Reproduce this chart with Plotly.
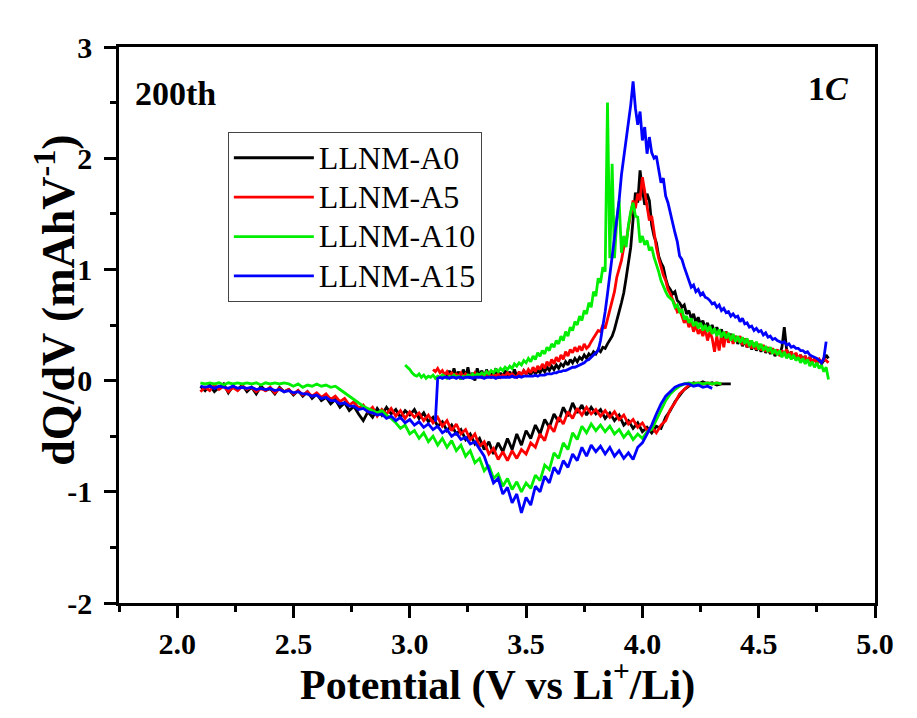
import numpy as np
import plotly.graph_objects as go

# ---------------- data ----------------
series_names = ["LLNM-A0", "LLNM-A5", "LLNM-A10", "LLNM-A15"]
series_colors = ["#000000", "#ff0000", "#00ee00", "#0000ff"]

# discharge branches: sampled every 0.02 V starting at 2.10 V
dis_start = [2.10, 2.10, 2.10, 2.10]
dis_step = 0.02
dis_A0 = [-0.05, -0.09, -0.04, -0.10, -0.06, -0.03, -0.11, -0.05, -0.08, -0.04,
          -0.10, -0.06, -0.12, -0.05, -0.09, -0.07, -0.12, -0.06, -0.10, -0.08,
          -0.13, -0.09, -0.14, -0.10, -0.16, -0.12, -0.18, -0.15, -0.21, -0.17,
          -0.24, -0.20, -0.27, -0.23, -0.30, -0.36, -0.28, -0.33, -0.25, -0.31,
          -0.24, -0.30, -0.26, -0.33, -0.27, -0.31, -0.26, -0.34, -0.29, -0.37,
          -0.33, -0.41, -0.37, -0.45, -0.40, -0.48, -0.44, -0.53, -0.48, -0.57,
          -0.52, -0.62, -0.55, -0.66, -0.56, -0.64, -0.52, -0.62, -0.48, -0.58,
          -0.45, -0.52, -0.40, -0.48, -0.35, -0.42, -0.30, -0.37, -0.24, -0.32,
          -0.20, -0.29, -0.22, -0.31, -0.24, -0.30, -0.26, -0.34, -0.29, -0.36,
          -0.31, -0.40, -0.36, -0.43, -0.38, -0.46, -0.42, -0.47, -0.41, -0.43,
          -0.33, -0.27, -0.19, -0.13, -0.08, -0.05, -0.02, -0.03, -0.01, -0.03,
          -0.02, -0.04, -0.03, -0.03, -0.03]
dis_A5 = [-0.10, -0.06, -0.09, -0.04, -0.08, -0.05, -0.10, -0.06, -0.09, -0.05,
          -0.08, -0.06, -0.10, -0.07, -0.09, -0.06, -0.11, -0.07, -0.10, -0.08,
          -0.12, -0.09, -0.13, -0.10, -0.14, -0.11, -0.15, -0.12, -0.17, -0.14,
          -0.19, -0.16, -0.22, -0.19, -0.25, -0.22, -0.28, -0.24, -0.32, -0.26,
          -0.30, -0.25, -0.32, -0.27, -0.34, -0.28, -0.33, -0.29, -0.36, -0.31,
          -0.38, -0.33, -0.41, -0.36, -0.45, -0.39, -0.48, -0.44, -0.53, -0.48,
          -0.59, -0.55, -0.66, -0.61, -0.71, -0.64, -0.72, -0.63, -0.70, -0.62,
          -0.66, -0.56, -0.60, -0.48, -0.54, -0.40, -0.46, -0.33, -0.39, -0.28,
          -0.34, -0.25, -0.31, -0.24, -0.30, -0.26, -0.32, -0.27, -0.33, -0.28,
          -0.35, -0.31, -0.39, -0.35, -0.42, -0.38, -0.45, -0.42, -0.47, -0.40,
          -0.36, -0.26, -0.20, -0.12, -0.08, -0.04, -0.03, -0.02, -0.03, -0.02,
          -0.03, -0.02, -0.03]
dis_A10 = [-0.02, -0.03, -0.02, -0.03, -0.02, -0.04, -0.02, -0.03, -0.02, -0.03,
           -0.02, -0.03, -0.02, -0.04, -0.02, -0.03, -0.02, -0.03, -0.02, -0.03,
           -0.05, -0.03, -0.06, -0.04, -0.05, -0.03, -0.05, -0.04, -0.06, -0.05,
           -0.08, -0.11, -0.14, -0.17, -0.20, -0.23, -0.25, -0.27, -0.29, -0.27,
           -0.31, -0.34, -0.38, -0.43, -0.40, -0.48, -0.45, -0.52, -0.47, -0.55,
           -0.50, -0.58, -0.52, -0.60, -0.54, -0.63, -0.58, -0.68, -0.63, -0.74,
           -0.70, -0.81, -0.76, -0.88, -0.84, -0.95, -0.88, -0.98, -0.91, -1.00,
           -0.92, -0.97, -0.85, -0.90, -0.76, -0.80, -0.65, -0.70, -0.56, -0.62,
           -0.47, -0.53, -0.41, -0.47, -0.39, -0.45, -0.40, -0.46, -0.41, -0.48,
           -0.44, -0.51, -0.46, -0.53, -0.48, -0.52, -0.46, -0.44, -0.35, -0.27,
           -0.18, -0.12, -0.08, -0.05, -0.03, -0.02, -0.03, -0.02, -0.03, -0.02,
           -0.03, -0.02, -0.03]
dis_A15 = [-0.05, -0.06, -0.05, -0.07, -0.05, -0.06, -0.07, -0.05, -0.07, -0.06,
           -0.07, -0.06, -0.08, -0.07, -0.08, -0.07, -0.09, -0.08, -0.10, -0.09,
           -0.11, -0.10, -0.12, -0.12, -0.14, -0.13, -0.16, -0.15, -0.18, -0.18,
           -0.21, -0.20, -0.23, -0.23, -0.26, -0.25, -0.28, -0.29, -0.31, -0.30,
           -0.34, -0.32, -0.36, -0.33, -0.38, -0.35, -0.40, -0.37, -0.42, -0.39,
           -0.44, -0.41, -0.47, -0.44, -0.50, -0.47, -0.53, -0.51, -0.57, -0.55,
           -0.62, -0.68, -0.80, -0.92, -0.88, -1.02, -0.96, -1.10, -1.02, -1.19,
           -1.05, -1.12, -0.95, -1.00, -0.86, -0.92, -0.78, -0.84, -0.72, -0.78,
           -0.66, -0.72, -0.60, -0.68, -0.58, -0.64, -0.59, -0.66, -0.60, -0.68,
           -0.63, -0.70, -0.65, -0.71, -0.60, -0.56, -0.48, -0.40, -0.30, -0.21,
           -0.14, -0.10, -0.06, -0.04, -0.03, -0.03, -0.05, -0.04, -0.06, -0.05,
           -0.07]

# charge branches: sampled every 0.01 V from the given start voltage
chg_start = [3.15, 3.10, 2.98, 3.11]
chg_step = 0.01
chg_A0 = [0.06, 0.02, 0.09, 0.03, 0.11, 0.04, 0.08, 0.01, 0.10, 0.03,
          0.12, 0.02, 0.07, 0.00, 0.11, 0.04, 0.09, 0.02, 0.10, 0.03,
          0.08, 0.04, 0.11, 0.02, 0.07, 0.03, 0.09, 0.05, 0.08, 0.03,
          0.10, 0.04, 0.07, 0.05, 0.09, 0.06,
          0.08, 0.05, 0.10, 0.06, 0.09, 0.07, 0.11, 0.08, 0.12, 0.09,
          0.13, 0.10, 0.14, 0.11, 0.15, 0.13, 0.17, 0.14, 0.19, 0.16,
          0.20, 0.17, 0.21, 0.19, 0.23, 0.20, 0.24, 0.22, 0.26, 0.24,
          0.28, 0.26, 0.30, 0.29, 0.33, 0.36, 0.40, 0.46, 0.53, 0.62,
          0.70, 0.79, 0.92, 1.05, 1.20, 1.45, 1.69, 1.60, 1.89, 1.72,
          1.58, 1.68, 1.62, 1.40, 1.30, 1.24, 1.12, 1.06, 1.02, 0.92,
          0.85, 0.82, 0.78, 0.80, 0.72, 0.70, 0.66, 0.68, 0.60, 0.63,
          0.56, 0.60, 0.52, 0.57, 0.50, 0.54, 0.47, 0.52, 0.45, 0.50,
          0.43, 0.48, 0.42, 0.46, 0.38, 0.44, 0.37, 0.42, 0.35, 0.40,
          0.33, 0.38, 0.31, 0.36, 0.30, 0.34, 0.28, 0.33, 0.27, 0.31,
          0.26, 0.31, 0.25, 0.29, 0.24, 0.28, 0.22, 0.27, 0.23, 0.30,
          0.48, 0.28, 0.22, 0.26, 0.20, 0.24, 0.19, 0.23, 0.18, 0.22,
          0.17, 0.21, 0.16, 0.20, 0.17, 0.19, 0.15, 0.18, 0.23, 0.20]
chg_A5 = [0.10, 0.08, 0.11, 0.07, 0.09, 0.05, 0.08, 0.04, 0.07, 0.05,
          0.06, 0.04, 0.07, 0.03, 0.06, 0.04, 0.05, 0.03, 0.07, 0.04,
          0.05, 0.03, 0.06, 0.04, 0.07, 0.03, 0.05, 0.04, 0.06, 0.03,
          0.05, 0.04, 0.07, 0.05, 0.06, 0.04, 0.03, 0.08, 0.05, 0.09,
          0.06, 0.10, 0.07, 0.12, 0.08, 0.13, 0.10, 0.15, 0.11, 0.17,
          0.13, 0.19, 0.15, 0.21, 0.17, 0.23, 0.19, 0.26, 0.22, 0.28,
          0.25, 0.30, 0.26, 0.31, 0.27, 0.33, 0.29, 0.31, 0.35, 0.38,
          0.42, 0.45, 0.44, 0.50, 0.47, 0.55, 0.62, 0.70, 0.80, 0.93,
          1.00, 1.08, 1.20, 1.25, 1.38, 1.50, 1.62, 1.55, 1.68, 1.62,
          1.83, 1.70, 1.55, 1.44, 1.48, 1.32, 1.20, 1.10, 1.02, 0.95,
          0.90, 0.82, 0.78, 0.72, 0.68, 0.62, 0.64, 0.58, 0.52, 0.56,
          0.48, 0.53, 0.44, 0.50, 0.42, 0.46, 0.40, 0.47, 0.36, 0.44,
          0.38, 0.26, 0.40, 0.27, 0.42, 0.30, 0.44, 0.34, 0.41, 0.33,
          0.40, 0.35, 0.40, 0.32, 0.38, 0.30, 0.36, 0.29, 0.34, 0.28,
          0.33, 0.27, 0.32, 0.26, 0.30, 0.25, 0.29, 0.24, 0.28, 0.22,
          0.27, 0.24, 0.28, 0.21, 0.26, 0.20, 0.25, 0.19, 0.23, 0.18,
          0.22, 0.17, 0.21, 0.16, 0.20, 0.15, 0.19, 0.16, 0.20, 0.18,
          0.16]
chg_A10 = [0.14, 0.12, 0.10, 0.07, 0.05, 0.04, 0.06, 0.03, 0.05, 0.02,
           0.04, 0.03, 0.05, 0.02, 0.04, 0.03, 0.05, 0.04, 0.02, 0.04,
           0.03, 0.05, 0.03, 0.04, 0.02, 0.04, 0.03, 0.05, 0.04, 0.06,
           0.04, 0.06, 0.05, 0.07, 0.05, 0.08, 0.06, 0.09, 0.07, 0.10,
           0.08, 0.11, 0.09, 0.12, 0.10, 0.13, 0.11, 0.15, 0.13, 0.16,
           0.14, 0.18, 0.16, 0.20, 0.17, 0.22, 0.19, 0.25, 0.22, 0.27,
           0.24, 0.30, 0.27, 0.33, 0.30, 0.36, 0.33, 0.40, 0.36, 0.44,
           0.40, 0.48, 0.45, 0.53, 0.50, 0.58, 0.54, 0.63, 0.60, 0.70,
           0.66, 0.80, 0.76, 0.92, 0.88, 1.02, 0.98, 2.50, 1.10, 1.95,
           1.10, 1.45, 1.62, 1.15, 1.30, 1.20, 1.40, 1.52, 1.60, 1.48,
           1.47, 1.24, 1.30, 1.22, 1.26, 1.17, 1.20, 1.11, 1.05, 0.98,
           0.90, 0.84, 0.80, 0.76, 0.74, 0.72, 0.66, 0.68, 0.62, 0.64,
           0.55, 0.58, 0.52, 0.56, 0.49, 0.53, 0.47, 0.52, 0.45, 0.50,
           0.44, 0.49, 0.42, 0.47, 0.40, 0.46, 0.39, 0.44, 0.38, 0.43,
           0.36, 0.42, 0.35, 0.40, 0.34, 0.39, 0.33, 0.38, 0.31, 0.36,
           0.30, 0.35, 0.28, 0.33, 0.27, 0.31, 0.26, 0.30, 0.24, 0.28,
           0.23, 0.27, 0.21, 0.26, 0.20, 0.24, 0.19, 0.23, 0.18, 0.21,
           0.16, 0.20, 0.15, 0.19, 0.13, 0.17, 0.12, 0.16, 0.11, 0.14,
           0.08, 0.12, 0.01]
chg_A15 = [-0.37, 0.02, 0.03, 0.02, 0.03, 0.03, 0.02, 0.03, 0.03, 0.02,
           0.03, 0.03, 0.02, 0.03, 0.03, 0.03, 0.02, 0.03, 0.03, 0.03,
           0.03, 0.02, 0.03, 0.03, 0.03, 0.03, 0.02, 0.03, 0.03, 0.03,
           0.03, 0.03, 0.03, 0.04, 0.03, 0.03, 0.04, 0.03, 0.04, 0.04,
           0.04, 0.04, 0.04, 0.05, 0.04, 0.05, 0.05, 0.05, 0.06, 0.06,
           0.06, 0.07, 0.07, 0.08, 0.08, 0.09, 0.09, 0.10, 0.11, 0.12,
           0.12, 0.13, 0.14, 0.15, 0.16, 0.18, 0.19, 0.21, 0.23, 0.25,
           0.27, 0.36, 0.48, 0.62, 0.78, 0.95, 1.12, 1.30, 1.48, 1.62,
           1.85, 2.00, 2.18, 2.30, 2.48, 2.69, 2.45, 2.30, 2.42, 2.16,
           2.28, 2.04, 2.19, 2.05, 2.00, 2.02, 1.90, 1.78, 1.82, 1.66,
           1.60, 1.52, 1.42, 1.33, 1.25, 1.12, 1.09, 1.02, 0.96, 0.90,
           0.84, 0.86, 0.80, 0.82, 0.77, 0.79, 0.75, 0.74, 0.72, 0.69,
           0.70, 0.66, 0.68, 0.63, 0.65, 0.61, 0.62, 0.58, 0.60, 0.57,
           0.58, 0.53, 0.56, 0.51, 0.52, 0.48, 0.49, 0.45, 0.47, 0.44,
           0.45, 0.41, 0.43, 0.39, 0.40, 0.37, 0.38, 0.36, 0.35, 0.34,
           0.35, 0.32, 0.33, 0.30, 0.31, 0.29, 0.29, 0.27, 0.27, 0.25,
           0.26, 0.23, 0.22, 0.21, 0.20, 0.18, 0.16, 0.20, 0.35]

dis_values = [dis_A0, dis_A5, dis_A10, dis_A15]
chg_values = [chg_A0, chg_A5, chg_A10, chg_A15]

x_ticks = [2.0, 2.5, 3.0, 3.5, 4.0, 4.5, 5.0]
x_ticklabels = ["2.0", "2.5", "3.0", "3.5", "4.0", "4.5", "5.0"]
y_ticks = [-2, -1, 0, 1, 2, 3]
y_ticklabels = ["-2", "-1", "0", "1", "2", "3"]

# ---------------- figure ----------------
SERIF = "Liberation Serif, Times New Roman, serif"
fig = go.Figure()

for i, name in enumerate(series_names):
    yd = dis_values[i]
    xd = np.round(dis_start[i] + dis_step * np.arange(len(yd)), 3)
    yc = chg_values[i]
    xc = np.round(chg_start[i] + chg_step * np.arange(len(yc)), 3)
    label = '<span style="font-size:32px">%s</span>' % name
    fig.add_trace(go.Scatter(x=xd, y=yd, mode="lines", name=label,
                             legendgroup=name, showlegend=True,
                             line=dict(color=series_colors[i], width=2.8)))
    fig.add_trace(go.Scatter(x=xc, y=yc, mode="lines", name=label,
                             legendgroup=name, showlegend=False,
                             line=dict(color=series_colors[i], width=2.8)))

axis_common = dict(showline=True, linecolor="black", linewidth=2.5, mirror=True,
                   ticks="outside", tickcolor="black", tickwidth=2.5, ticklen=12,
                   showgrid=False, zeroline=False,
                   tickfont=dict(family=SERIF, size=30, color="black"))

fig.update_xaxes(range=[1.75, 5.0], tickvals=x_ticks,
                 ticktext=["<b>%s</b>" % t for t in x_ticklabels],
                 minor=dict(ticks="outside", dtick=0.25, tick0=1.75, ticklen=6,
                            tickwidth=2.5, tickcolor="black", showgrid=False),
                 **axis_common)
fig.update_yaxes(range=[-2, 3], tickvals=y_ticks,
                 ticktext=["<b>%s</b>" % t for t in y_ticklabels],
                 minor=dict(ticks="outside", dtick=0.5, tick0=-2, ticklen=6,
                            tickwidth=2.5, tickcolor="black", showgrid=False),
                 ticklabelstandoff=6,
                 **axis_common)

# the page adds an 8 px body margin, so the figure is 8 px smaller
fig.update_layout(
    width=909, height=710,
    margin=dict(l=111, r=42, t=39, b=115, autoexpand=False),
    paper_bgcolor="white", plot_bgcolor="white",
    showlegend=True,
    legend=dict(x=0.144, y=0.847, xanchor="left", yanchor="top",
                bgcolor="white", bordercolor="#444444", borderwidth=1,
                font=dict(family=SERIF, size=28, color="black"),
                itemwidth=80, tracegroupgap=0),
    annotations=[
        dict(text="<b>Potential (V vs Li<sup>+</sup>/Li)</b>", x=0.5, y=-0.142,
             xref="paper", yref="paper", xanchor="center", yanchor="middle",
             showarrow=False,
             font=dict(family=SERIF, size=42, color="black")),
        dict(text="<b>dQ/dV (mAhV<sup>-1</sup>)</b>", x=-0.085, y=0.545,
             xref="paper", yref="paper", xanchor="center", yanchor="middle",
             textangle=-90, showarrow=False,
             font=dict(family=SERIF, size=46, color="black")),
        dict(text="<b>200th</b>", x=0.075, y=0.917, xref="paper", yref="paper",
             xanchor="center", yanchor="middle", showarrow=False,
             font=dict(family=SERIF, size=34, color="black")),
        dict(text="<b>1<i>C</i></b>", x=0.938, y=0.926, xref="paper", yref="paper",
             xanchor="center", yanchor="middle", showarrow=False,
             font=dict(family=SERIF, size=34, color="black")),
    ],
)

fig.write_html("out.html")
